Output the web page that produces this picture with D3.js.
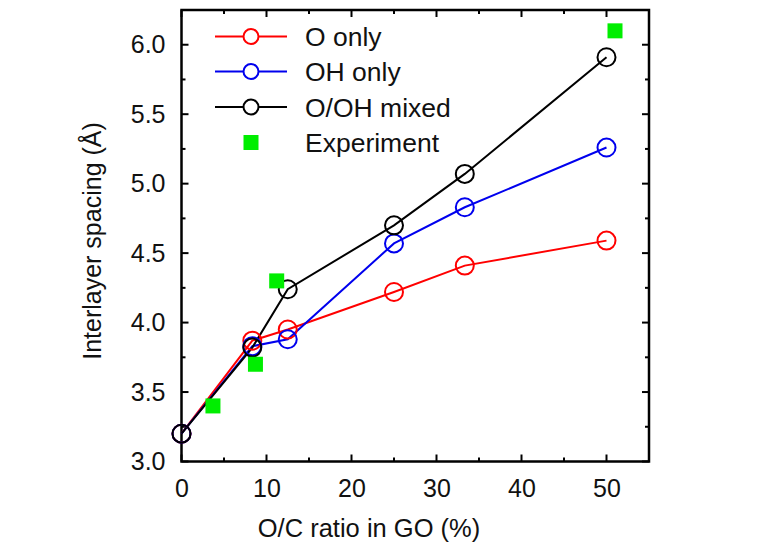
<!DOCTYPE html>
<html><head><meta charset="utf-8">
<script src="https://cdn.jsdelivr.net/npm/d3@7"></script>
<style>body{margin:0;background:#fff}svg{display:block}</style>
</head><body>
<script>
const ratios = [0, 8.33, 12.5, 25, 33.33, 50];
const oOnly = [3.20, 3.87, 3.95, 4.22, 4.41, 4.59];
const ohOnly = [3.20, 3.83, 3.88, 4.57, 4.83, 5.26];
const mixed = [3.20, 3.82, 4.24, 4.70, 5.07, 5.91];
const expX = [3.7, 8.7, 11.2, 51.0];
const expY = [3.40, 3.70, 4.30, 6.10];
const xTicks = [0, 10, 20, 30, 40, 50];
const yTicks = [3.0, 3.5, 4.0, 4.5, 5.0, 5.5, 6.0];
const seriesNames = ["O only", "OH only", "O/OH mixed", "Experiment"];
const seriesColors = ["#ff0000", "#0000ee", "#000000", "#00ee00"];

const W = 766, H = 556;
const m = {l: 181.5, r: W - 649, t: 10, b: H - 461.5};
const svg = d3.select("body").append("svg").attr("width", W).attr("height", H);
const x = d3.scaleLinear().domain([0, 55]).range([m.l, W - m.r]);
const y = d3.scaleLinear().domain([3.0, 6.25]).range([H - m.b, m.t]);
const font = "Liberation Sans, Arial, Helvetica, sans-serif";

// ticks (inward, all four sides)
const g = svg.append("g");
const xMinor = d3.range(5, 55, 5);
const yMinor = d3.range(3.25, 6.25, 0.25);
function tickSet(vals, len, axis) {
  vals.forEach(v => {
    if (axis === "x") {
      g.append("line").attr("x1", x(v)).attr("x2", x(v)).attr("y1", y.range()[0]).attr("y2", y.range()[0] - len).attr("stroke", "#000").attr("stroke-width", 2);
      g.append("line").attr("x1", x(v)).attr("x2", x(v)).attr("y1", y.range()[1]).attr("y2", y.range()[1] + len).attr("stroke", "#000").attr("stroke-width", 2);
    } else {
      g.append("line").attr("y1", y(v)).attr("y2", y(v)).attr("x1", x.range()[0]).attr("x2", x.range()[0] + len).attr("stroke", "#000").attr("stroke-width", 2);
      g.append("line").attr("y1", y(v)).attr("y2", y(v)).attr("x1", x.range()[1]).attr("x2", x.range()[1] - len).attr("stroke", "#000").attr("stroke-width", 2);
    }
  });
}
tickSet(xTicks, 7, "x");
tickSet(xMinor.filter(v => !xTicks.includes(v)), 4, "x");
tickSet(yTicks, 7, "y");
tickSet(yMinor.filter(v => !yTicks.some(t => Math.abs(t - v) < 1e-6)), 4, "y");

// frame
svg.append("rect").attr("x", x.range()[0]).attr("y", y.range()[1])
  .attr("width", x.range()[1] - x.range()[0]).attr("height", y.range()[0] - y.range()[1])
  .attr("fill", "none").attr("stroke", "#000").attr("stroke-width", 2.5);

// tick labels
const xAxis = d3.axisBottom(x).tickValues(xTicks).tickSize(0).tickPadding(18).tickFormat(d3.format("d"));
const xa = svg.append("g").attr("transform", `translate(0,${y.range()[0]})`).call(xAxis);
xa.select(".domain").remove();
xa.selectAll("text").attr("font-family", font).attr("font-size", 25).attr("fill", "#111");
const yAxis = d3.axisLeft(y).tickValues(yTicks).tickSize(0).tickPadding(16).tickFormat(d3.format(".1f"));
const ya = svg.append("g").attr("transform", `translate(${x.range()[0]},0)`).call(yAxis);
ya.select(".domain").remove();
ya.selectAll("text").attr("font-family", font).attr("font-size", 25).attr("fill", "#111");

// axis titles
svg.append("text").attr("x", 369).attr("y", 537).attr("text-anchor", "middle")
  .attr("font-family", font).attr("font-size", 25.5).attr("fill", "#111").text("O/C ratio in GO (%)");
svg.append("text").attr("transform", "translate(101,241) rotate(-90)").attr("text-anchor", "middle")
  .attr("font-family", font).attr("font-size", 25).attr("fill", "#111").text("Interlayer spacing (Å)");

// series
const series = [oOnly, ohOnly, mixed];
const line = d3.line().x((d, i) => x(ratios[i])).y(d => y(d));
series.forEach((s, k) => {
  svg.append("path").datum(s).attr("d", line).attr("fill", "none")
    .attr("stroke", seriesColors[k]).attr("stroke-width", 2);
});
series.forEach((s, k) => {
  svg.selectAll(null).data(s).enter().append("circle")
    .attr("cx", (d, i) => x(ratios[i])).attr("cy", d => y(d)).attr("r", 9)
    .attr("fill", "none").attr("stroke", seriesColors[k]).attr("stroke-width", 2);
});
svg.selectAll(null).data(expY).enter().append("rect")
  .attr("x", (d, i) => x(expX[i]) - 7.5).attr("y", d => y(d) - 7.5)
  .attr("width", 15).attr("height", 15).attr("fill", seriesColors[3]);

// legend
const legY = [36.5, 71.5, 107, 142.5];
seriesNames.forEach((n, k) => {
  const lg = svg.append("g");
  if (k < 3) {
    lg.append("line").attr("x1", 215).attr("x2", 287).attr("y1", legY[k]).attr("y2", legY[k])
      .attr("stroke", seriesColors[k]).attr("stroke-width", 2);
    lg.append("circle").attr("cx", 251).attr("cy", legY[k]).attr("r", 7.5)
      .attr("fill", "#fff").attr("stroke", seriesColors[k]).attr("stroke-width", 2);
  } else {
    lg.append("rect").attr("x", 243.5).attr("y", legY[k] - 7.5).attr("width", 15).attr("height", 15)
      .attr("fill", seriesColors[k]);
  }
  lg.append("text").attr("x", 305).attr("y", legY[k]).attr("dy", "0.36em")
    .attr("font-family", font).attr("font-size", 26.5).attr("fill", "#111").text(n);
});
</script>
</body></html>
